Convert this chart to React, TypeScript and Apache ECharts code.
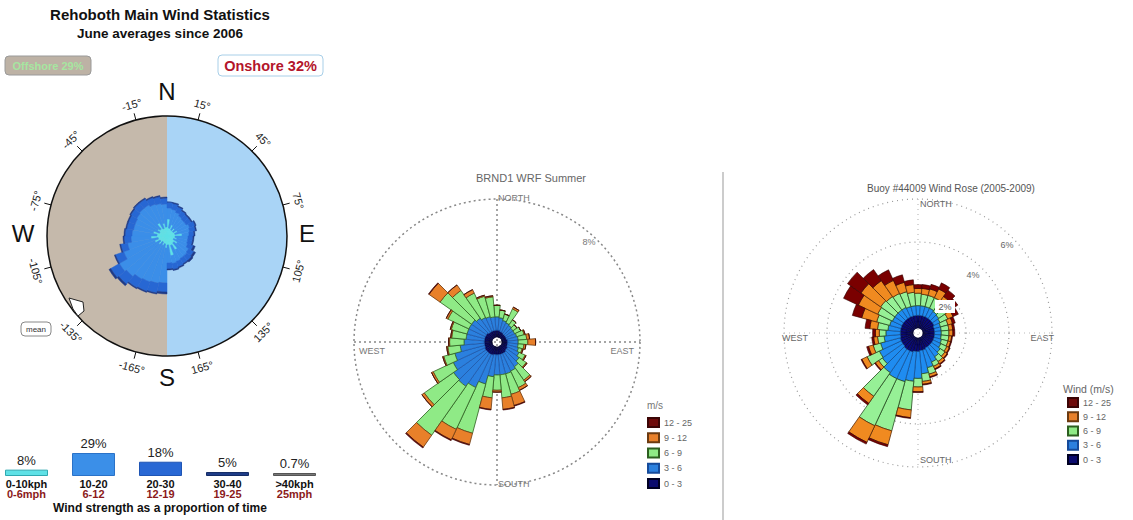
import React, { useEffect, useRef } from "react";
import * as echarts from "echarts";

const FONT = "'Liberation Sans', Arial, Helvetica, sans-serif";

// ---------- Left panel: Rehoboth (bins 0-10°, 10-20° ... clockwise from N)
const LEFT_DIRS = ["5","15","25","35","45","55","65","75","85","95","105","115","125","135","145","155","165","175","185","195","205","215","225","235","245","255","265","275","285","295","305","315","325","335","345","355"];
const L_0_10 = [1.7,0.8,1.2,0.7,1.0,0.7,1.1,0.8,1.5,0.8,1.0,0.7,1.2,0.9,1.6,1.0,2.0,0.9,1.2,0.8,1.0,0.7,1.1,0.8,1.3,0.9,1.6,1.0,1.4,0.8,1.1,0.9,1.5,0.8,1.3,0.9];
const L_10_20 = [1.1,1.9,1.3,1.6,1.2,1.5,1.3,1.5,0.7,1.3,1.1,1.5,1.3,1.7,1.0,1.7,0.8,1.8,3.5,4.0,3.9,4.3,4.2,4.7,3.3,3.1,2.0,2.5,2.0,2.6,2.4,2.7,2.1,2.6,2.0,2.3];
const L_20_30 = [0.6,0.6,0.6,0.6,0.6,0.6,0.6,0.6,0.5,0.5,0.5,0.6,0.6,0.6,0.6,0.6,0.6,0.6,0.9,1.0,1.0,1.0,1.0,1.0,0.9,0.7,0.7,0.7,0.7,0.7,0.7,0.7,0.7,0.7,0.7,0.6];
const L_30_40 = [0,0.1,0.1,0.1,0.1,0.1,0.1,0.1,0.1,0.1,0.1,0.2,0.2,0.2,0.1,0.1,0.1,0.1,0.2,0.1,0.1,0.1,0.2,0.2,0.1,0.1,0.1,0.1,0.1,0.1,0.1,0.1,0.1,0.1,0.1,0.1];
const DEG_TICKS = [-165,-135,-105,-75,-45,-15,15,45,75,105,135,165];

// strength legend
const KPH_LABELS = ["0-10kph","10-20","20-30","30-40",">40kph"];
const MPH_LABELS = ["0-6mph","6-12","12-19","19-25","25mph"];
const STRENGTH = [8, 29, 18, 5, 0.7];
const STRENGTH_COLORS = ["#5fe1e6","#3b8fe8","#2968d4","#1f3d88","#777777"];
const STRENGTH_BORDERS = ["#2fa8b0","#2a72c8","#1f55b4","#152c66","#555555"];

// ---------- Middle / right panels (bins centred on 0°, 10° ...)
const DIRS = ["N","10","20","30","40","50","60","70","80","E","100","110","120","130","140","150","160","170","S","190","200","210","220","230","240","250","260","W","280","290","300","310","320","330","340","350"];
const SPEED_BINS = ["12 - 25","9 - 12","6 - 9","3 - 6","0 - 3"];

const MID_0_3 = [0.39,0.39,0.33,0.33,0.28,0.28,0.28,0.28,0.33,0.33,0.33,0.33,0.39,0.39,0.45,0.45,0.45,0.45,0.45,0.45,0.50,0.50,0.50,0.50,0.50,0.45,0.45,0.45,0.45,0.45,0.45,0.45,0.39,0.39,0.39,0.39];
const MID_3_6 = [0.78,0.73,0.67,0.61,0.61,0.56,0.56,0.61,0.61,0.61,0.61,0.67,0.73,0.89,1.01,1.12,1.17,1.17,1.17,1.28,1.73,2.12,2.35,2.29,2.01,1.79,1.40,1.17,1.06,1.06,1.06,1.06,1.01,0.89,0.84,0.78];
const MID_6_9 = [0.67,0.45,0.39,0.89,0.39,0.28,0.39,0.45,0.50,0.56,0.34,0.22,0.39,0.50,0.95,1.06,1.23,1.34,0.89,1.23,2.96,2.68,3.46,2.07,1.28,0.67,0.73,0.84,0.84,0.95,1.34,2.23,1.96,1.56,1.23,1.17];
const MID_9_12 = [0,0,0,0.11,0,0,0,0.06,0.17,0.45,0.11,0.06,0.06,0.06,0.11,0.17,0.67,0.67,0.11,0.67,0.67,0.67,0.84,0.17,0.11,0.06,0.06,0.06,0.06,0.06,0.11,0.78,0.39,0.22,0.06,0.06];
const MID_12_25 = [0,0,0,0,0,0,0,0,0,0,0,0,0,0,0,0,0.04,0.04,0,0.04,0.05,0.05,0.06,0,0,0,0,0,0,0,0,0.04,0,0,0,0];

const BUOY_0_3 = [0.59,0.59,0.59,0.59,0.59,0.59,0.59,0.54,0.54,0.54,0.54,0.54,0.54,0.54,0.54,0.54,0.59,0.59,0.63,0.63,0.68,0.68,0.68,0.63,0.63,0.63,0.59,0.59,0.59,0.59,0.59,0.59,0.59,0.59,0.59,0.59];
const BUOY_3_6 = [0.45,0.45,0.45,0.45,0.40,0.36,0.31,0.31,0.31,0.31,0.31,0.36,0.40,0.49,0.58,0.72,0.85,1.08,1.25,1.39,1.43,1.43,1.34,1.16,1.12,0.94,0.76,0.67,0.58,0.54,0.49,0.49,0.49,0.49,0.45,0.45];
const BUOY_6_9 = [0.58,0.54,0.54,0.54,0.49,0.45,0.40,0.36,0.36,0.36,0.36,0.31,0.31,0.27,0.27,0.22,0.31,0.36,0.40,1.34,2.37,2.42,1.34,0.22,0.63,0.36,0.31,0.31,0.49,0.63,0.76,0.81,0.76,0.72,0.72,0.63];
const BUOY_9_12 = [0.22,0.27,0.31,0.45,0.36,0.27,0.27,0.22,0.18,0.18,0.13,0.13,0.13,0.13,0.13,0.13,0.13,0.13,0.22,0.36,0.67,0.85,0.40,0.18,0.27,0.22,0.18,0.18,0.36,0.72,0.99,1.12,0.90,0.67,0.45,0.36];
const BUOY_12_25 = [0.18,0.18,0.22,0.31,0.36,0.36,0.27,0.13,0.09,0.09,0.04,0.04,0.04,0.04,0.04,0.04,0.04,0.04,0.04,0.04,0.09,0.09,0.09,0.04,0.04,0.09,0.09,0.13,0.22,0.45,0.76,0.76,0.63,0.54,0.36,0.22];

// ---------- layout constants
const LC = [167, 236]; const LR = 120;
const MC = [497, 342]; const MR = 143;
const RC = [918, 333]; const RR = 134;

function txt(text: string, x: number, y: number, o: any = {}) {
  return {
    type: "text", x, y, z: o.z ?? 50, rotation: o.rotation ?? 0,
    style: {
      text, fill: o.fill ?? "#111", fontSize: o.fontSize ?? 12, fontWeight: o.fontWeight ?? "normal",
      fontFamily: FONT, align: o.align ?? "center", verticalAlign: "middle",
    },
  };
}

function buildGraphic() {
  const g: any[] = [];
  // left background halves
  g.push({ type: "sector", z: -10, shape: { cx: LC[0], cy: LC[1], r0: 0, r: LR, startAngle: -Math.PI / 2, endAngle: Math.PI / 2 }, style: { fill: "#a9d4f6" } });
  g.push({ type: "sector", z: -10, shape: { cx: LC[0], cy: LC[1], r0: 0, r: LR, startAngle: Math.PI / 2, endAngle: (3 * Math.PI) / 2 }, style: { fill: "#c5b9ab" } });
  g.push({ type: "circle", z: 10, shape: { cx: LC[0], cy: LC[1], r: LR }, style: { fill: "transparent", stroke: "#111", lineWidth: 1.5 } });
  DEG_TICKS.forEach((d) => {
    const a = (d * Math.PI) / 180;
    const s = Math.sin(a), c = Math.cos(a);
    g.push({ type: "line", z: 10, shape: { x1: LC[0] + LR * s, y1: LC[1] - LR * c, x2: LC[0] + (LR + 7) * s, y2: LC[1] - (LR + 7) * c }, style: { stroke: "#111", lineWidth: 1 } });
    const rot = Math.abs(d) < 90 ? d : d > 0 ? d - 180 : d + 180;
    g.push(txt(`${d}°`, LC[0] + (LR + 16) * s, LC[1] - (LR + 16) * c, { fontSize: 11, rotation: (-rot * Math.PI) / 180, fill: "#222" }));
  });
  g.push(txt("N", 167, 91, { fontSize: 24 }));
  g.push(txt("S", 167, 377, { fontSize: 24 }));
  g.push(txt("W", 23, 233, { fontSize: 24 }));
  g.push(txt("E", 307, 233, { fontSize: 24 }));
  // titles
  g.push(txt("Rehoboth Main Wind Statistics", 160, 14, { fontSize: 15, fontWeight: "bold" }));
  g.push(txt("June averages since 2006", 160, 33, { fontSize: 13.5, fontWeight: "bold" }));
  g.push({ type: "rect", z: 40, shape: { x: 5, y: 56, width: 86, height: 19, r: 4 }, style: { fill: "#bdb2a5", stroke: "#9a9a9a", lineWidth: 1 } });
  g.push(txt("Offshore 29%", 48, 66, { fontSize: 11, fontWeight: "bold", fill: "#a6e6a0" }));
  g.push({ type: "rect", z: 40, shape: { x: 218, y: 55, width: 105, height: 21, r: 4 }, style: { fill: "#ffffff", stroke: "#a8cfe8", lineWidth: 1 } });
  g.push(txt("Onshore 32%", 270.5, 66, { fontSize: 14.5, fontWeight: "bold", fill: "#b3152b" }));
  // mean marker
  g.push({ type: "polygon", z: 30, shape: { points: [[69, 298], [83, 302], [84, 311], [78, 316], [73, 309]] }, style: { fill: "#ffffff", stroke: "#222", lineWidth: 1 } });
  g.push({ type: "rect", z: 40, shape: { x: 21, y: 322, width: 30, height: 14, r: 4 }, style: { fill: "#fff", stroke: "#888", lineWidth: 1 } });
  g.push(txt("mean", 36, 329.5, { fontSize: 8, fill: "#333" }));
  g.push(txt("Wind strength as a proportion of time", 160, 508, { fontSize: 12, fontWeight: "bold" }));

  // middle panel
  g.push(txt("BRND1 WRF Summer", 531, 178, { fontSize: 11, fill: "#666" }));
  g.push({ type: "line", z: 1, shape: { x1: MC[0] - MR, y1: MC[1], x2: MC[0] + MR, y2: MC[1] }, style: { stroke: "#888", lineWidth: 1.5, lineDash: [2, 3] } });
  g.push({ type: "line", z: 1, shape: { x1: MC[0], y1: MC[1] - MR, x2: MC[0], y2: MC[1] + MR }, style: { stroke: "#888", lineWidth: 1.5, lineDash: [2, 3] } });
  g.push(txt("NORTH", 498, 198, { fontSize: 9, fill: "#777", align: "left" }));
  g.push(txt("SOUTH", 498, 484, { fontSize: 9, fill: "#777", align: "left" }));
  g.push(txt("WEST", 359, 351, { fontSize: 9, fill: "#777", align: "left" }));
  g.push(txt("EAST", 634, 351, { fontSize: 9, fill: "#777", align: "right" }));
  g.push(txt("8%", 589, 242, { fontSize: 9, fill: "#777" }));
  g.push(txt("m/s", 647, 405, { fontSize: 10, fill: "#777", align: "left" }));
  g.push({ type: "line", z: 1, shape: { x1: 723, y1: 172, x2: 723, y2: 520 }, style: { stroke: "#cccccc", lineWidth: 2 } });

  // right panel
  g.push(txt("Buoy #44009 Wind Rose (2005-2009)", 951, 188, { fontSize: 10, fill: "#555" }));
  g.push({ type: "line", z: 1, shape: { x1: RC[0] - RR, y1: RC[1], x2: RC[0] + RR, y2: RC[1] }, style: { stroke: "#bbb", lineWidth: 1.2, lineDash: [1, 4] } });
  g.push({ type: "line", z: 1, shape: { x1: RC[0], y1: RC[1] - RR, x2: RC[0], y2: RC[1] + RR }, style: { stroke: "#bbb", lineWidth: 1.2, lineDash: [1, 4] } });
  g.push(txt("NORTH", 920, 204, { fontSize: 9, fill: "#666", align: "left" }));
  g.push(txt("SOUTH", 920, 460, { fontSize: 9, fill: "#666", align: "left" }));
  g.push(txt("WEST", 782, 338, { fontSize: 9, fill: "#666", align: "left" }));
  g.push(txt("EAST", 1054, 338, { fontSize: 9, fill: "#666", align: "right" }));
  g.push(txt("6%", 1007, 245, { fontSize: 9, fill: "#666" }));
  g.push(txt("4%", 973, 275, { fontSize: 9, fill: "#666" }));
  g.push({ type: "rect", z: 45, shape: { x: 935, y: 300, width: 20, height: 13 }, style: { fill: "#ffffff" } });
  g.push(txt("2%", 945, 307, { fontSize: 9, fill: "#555" }));
  g.push(txt("Wind (m/s)", 1063, 389, { fontSize: 10.5, fill: "#666", align: "left" }));
  return g;
}

function roseSeries(name: string, data: number[], polarIndex: number, stack: string, color: string, border: string, bw: number) {
  return {
    type: "bar", name, data, coordinateSystem: "polar", polarIndex, stack,
    barCategoryGap: "0%",
    itemStyle: { color, borderColor: border, borderWidth: bw },
    emphasis: { disabled: true },
  };
}

function hiddenRadius(polarIndex: number, max: number, extra: any = {}) {
  return {
    polarIndex, type: "value", min: 0, max,
    axisLine: { show: false }, axisTick: { show: false }, axisLabel: { show: false },
    splitLine: { show: false }, ...extra,
  };
}

function angle(polarIndex: number, data: string[], startAngle: number, line: any) {
  return {
    polarIndex, type: "category", data, startAngle, clockwise: true, boundaryGap: true,
    axisLine: line, axisTick: { show: false }, axisLabel: { show: false }, splitLine: { show: false },
  };
}

const legendText = { fontSize: 9, color: "#666", lineHeight: 10, fontFamily: FONT };

export default function App() {
  const ref = useRef<HTMLDivElement>(null);
  useEffect(() => {
    const chart = echarts.init(ref.current!, null, { renderer: "svg" });
    const option: any = {
      animation: false,
      backgroundColor: "#ffffff",
      textStyle: { fontFamily: FONT },
      polar: [
        { center: LC, radius: [0, LR] },
        { center: MC, radius: [5, MR] },
        { center: RC, radius: [5, RR] },
      ],
      angleAxis: [
        angle(0, LEFT_DIRS, 90, { show: false }),
        angle(1, DIRS, 95, { show: true, lineStyle: { color: "#888", width: 1.5, type: [2, 3] } }),
        angle(2, DIRS, 95, { show: false }),
      ],
      radiusAxis: [
        hiddenRadius(0, 12),
        hiddenRadius(1, 8),
        hiddenRadius(2, 6, { interval: 2, splitLine: { show: true, lineStyle: { color: "#999", width: 1.2, type: [1, 4] } } }),
      ],
      grid: [{ left: 26.5, top: 453, width: 268, height: 23 }],
      xAxis: [{
        type: "category", gridIndex: 0, data: KPH_LABELS, boundaryGap: false,
        axisLine: { show: false }, axisTick: { show: false }, splitLine: { show: false },
        axisLabel: {
          interval: 0, margin: 3,
          formatter: (v: string, i: number) => `{a|${v}}\n{b|${MPH_LABELS[i]}}`,
          rich: {
            a: { fontSize: 11, fontWeight: "bold", color: "#111", lineHeight: 10, fontFamily: FONT },
            b: { fontSize: 11, fontWeight: "bold", color: "#8b1a1a", lineHeight: 10, fontFamily: FONT },
          },
        },
      }],
      yAxis: [{ type: "value", gridIndex: 0, min: 0, max: 29, show: false }],
      legend: [
        {
          data: SPEED_BINS, orient: "vertical", left: 647, top: 417, padding: 0, itemWidth: 11, itemHeight: 9, itemGap: 4.25,
          icon: "rect", selectedMode: false, textStyle: legendText,
        },
        {
          data: SPEED_BINS, orient: "vertical", left: 1067, top: 397, padding: 0, itemWidth: 10, itemHeight: 9, itemGap: 3.25,
          icon: "rect", selectedMode: false, textStyle: legendText,
        },
      ],
      graphic: { elements: buildGraphic() },
      series: [
        roseSeries("0-10kph", L_0_10, 0, "left", "#5fe1e6", "#5fe1e6", 0.5),
        roseSeries("10-20kph", L_10_20, 0, "left", "#3b8ee8", "#3b8ee8", 0.5),
        roseSeries("20-30kph", L_20_30, 0, "left", "#2767d3", "#2767d3", 0.5),
        roseSeries("30-40kph", L_30_40, 0, "left", "#1f3a86", "#1f3a86", 0.5),

        roseSeries("0 - 3", MID_0_3, 1, "mid", "#0b0b6e", "#000022", 0.6),
        roseSeries("3 - 6", MID_3_6, 1, "mid", "#2b80de", "#154a9a", 0.6),
        roseSeries("6 - 9", MID_6_9, 1, "mid", "#8fea86", "#2d5e20", 0.8),
        roseSeries("9 - 12", MID_9_12, 1, "mid", "#e8802a", "#6b3a10", 0.8),
        roseSeries("12 - 25", MID_12_25, 1, "mid", "#6e0a0a", "#3a0505", 0.6),

        roseSeries("0 - 3", BUOY_0_3, 2, "buoy", "#0a0a78", "#000022", 0.6),
        roseSeries("3 - 6", BUOY_3_6, 2, "buoy", "#1f8cf0", "#0c3f80", 0.6),
        roseSeries("6 - 9", BUOY_6_9, 2, "buoy", "#96f096", "#244a20", 0.8),
        roseSeries("9 - 12", BUOY_9_12, 2, "buoy", "#f08a20", "#5a2a08", 0.8),
        roseSeries("12 - 25", BUOY_12_25, 2, "buoy", "#7a0000", "#300000", 0.6),

        {
          type: "bar", name: "strength", xAxisIndex: 0, yAxisIndex: 0, barWidth: 43, barMinHeight: 3, clip: false,
          data: STRENGTH.map((v, i) => ({ value: v, itemStyle: { color: STRENGTH_COLORS[i], borderColor: STRENGTH_BORDERS[i], borderWidth: 1 } })),
          label: { show: true, position: "top", distance: 3, formatter: "{c}%", fontSize: 13, color: "#222", fontFamily: FONT },
          emphasis: { disabled: true },
        },
      ],
    };
    chart.setOption(option);
    return () => chart.dispose();
  }, []);
  return <div ref={ref} style={{ position: "absolute", left: 0, top: 0, width: 1133, height: 520, background: "#fff" }} />;
}
